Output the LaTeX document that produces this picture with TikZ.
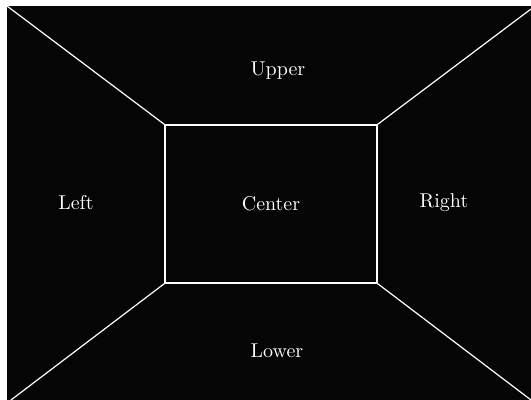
\documentclass[tikz,border=0pt]{standalone}
\usepackage{tikz}
\usetikzlibrary{positioning}

\begin{document}
\begin{tikzpicture}[
x=0.5pt, y=-0.5pt,
wall/.style={draw=white, line width=0.6pt},
lbl/.style={text=white, font=\normalsize, inner sep=1pt},
face/.style={draw=white, line width=0.6pt, text=white, minimum width=106pt, minimum height=79pt, inner sep=0pt}
]
\useasboundingbox (0,0) rectangle (531,400);
\fill[black!98] (7,6) rectangle (531,400);
% outer corners
\coordinate (tl) at (7,6);
\coordinate (tr) at (531,9);
\coordinate (bl) at (11,400);
\coordinate (br) at (531,400);
\node[face] (center) at (271,204) {Center};
\node[lbl] (upper) at (278,71) {Upper};
\node[lbl] (left) at (76,203) {Left};
\node[lbl] (right) at (444,203) {Right};
\node[lbl] (lower) at (277,351) {Lower};
\draw[wall] (center.north west) -- (tl);
\draw[wall] (center.north east) -- (tr);
\draw[wall] (center.south west) -- (bl);
\draw[wall] (center.south east) -- (br);
\end{tikzpicture}
\end{document}
